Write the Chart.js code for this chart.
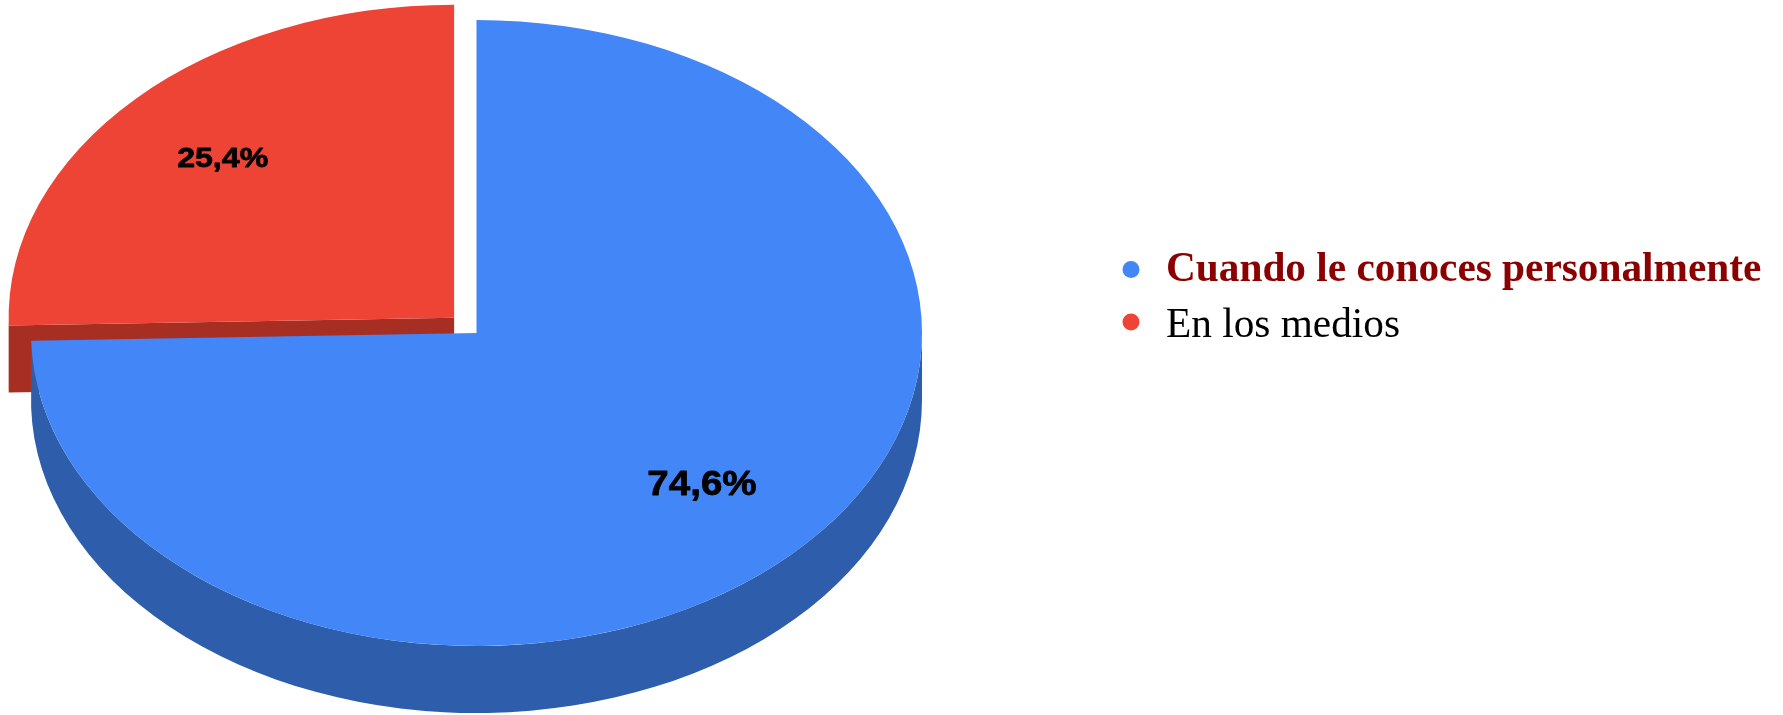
<!DOCTYPE html>
<html lang="es">
<head>
<meta charset="utf-8">
<title>Gráfico</title>
<style>html,body{margin:0;padding:0;background:#fff}canvas{display:block}</style>
<script src="https://cdn.jsdelivr.net/npm/chart.js@4"></script>
</head>
<body>
<canvas id="c" width="1783" height="715"></canvas>
<script>
const categories = ['Cuando le conoces personalmente', 'En los medios'];
const values = [74.6, 25.4];
const topColors = ['rgb(67,134,247)', 'rgb(238,68,53)'];
const sideColors = ['rgb(46,94,171)', 'rgb(166,46,35)'];
const sliceOffsets = [0, 125];

const TILT = 0.7026, SCREEN_CY = 333, DEPTH = 67;
const LABEL_R = 0.71, LABEL_FONT = [36, 30], LABEL_SQUASH = 0.95, LABEL_UP = 3, LABEL_LEFT = [1, 5];
const LEGEND = {x: 1131, dotR: 8.5, textX: 1166, size: 41.3,
  dotY: [269.5, 322], baseY: [281, 336.5]};

function tilt(ctx, chart) {
  const a = chart.getDatasetMeta(0).data[0];
  ctx.translate(a.x, SCREEN_CY);
  ctx.scale(1, TILT);
  ctx.translate(-a.x, -a.y);
}
function shift(arc, off) {
  const mid = (arc.startAngle + arc.endAngle) / 2;
  return {mid, dx: Math.cos(mid) * off / 4, dy: Math.sin(mid) * off / 4};
}

const pie3d = {
  id: 'pie3d',
  beforeDatasetsDraw(chart) {
    const ctx = chart.ctx;
    const arcs = chart.getDatasetMeta(0).data;
    ctx.save();
    tilt(ctx, chart);
    const d = DEPTH / TILT;
    // extruded faces, back slice first so the front slice covers it
    [1, 0].forEach(i => {
      const arc = arcs[i];
      const s = shift(arc, sliceOffsets[i]);
      const x = arc.x + s.dx, y = arc.y + s.dy, R = arc.outerRadius;
      ctx.fillStyle = sideColors[i];
      // cut edge at the slice start
      const ex = x + Math.cos(arc.startAngle) * R, ey = y + Math.sin(arc.startAngle) * R;
      ctx.beginPath();
      ctx.moveTo(x, y);
      ctx.lineTo(ex, ey);
      ctx.lineTo(ex, ey + d);
      ctx.lineTo(x, y + d);
      ctx.closePath();
      ctx.fill();
      // rim wall on the front half
      const a0 = Math.max(arc.startAngle, 0);
      const a1 = Math.min(arc.endAngle, Math.PI);
      if (a1 > a0) {
        ctx.beginPath();
        ctx.arc(x, y, R, a0, a1);
        ctx.arc(x, y + d, R, a1, a0, true);
        ctx.closePath();
        ctx.fill();
      }
    });
    // slices themselves are drawn by Chart.js under the same tilt
  },
  afterDatasetsDraw(chart) {
    const ctx = chart.ctx;
    ctx.restore();
    const arcs = chart.getDatasetMeta(0).data;
    // value labels
    arcs.forEach((arc, i) => {
      const s = shift(arc, sliceOffsets[i]);
      const r = arc.outerRadius * LABEL_R;
      const sx = arc.x + s.dx + Math.cos(s.mid) * r - LABEL_LEFT[i];
      const sy = SCREEN_CY + (s.dy + Math.sin(s.mid) * r) * TILT - LABEL_UP;
      ctx.save();
      ctx.translate(sx, sy);
      ctx.scale(1.07, LABEL_SQUASH);
      ctx.font = 'bold ' + LABEL_FONT[i] + 'px "Liberation Sans", Arial, sans-serif';
      ctx.fillStyle = '#000';
      ctx.strokeStyle = '#000';
      ctx.lineWidth = 0.8;
      ctx.lineJoin = 'round';
      ctx.textAlign = 'center';
      ctx.textBaseline = 'middle';
      const t = String(values[i]).replace('.', ',') + '%';
      ctx.strokeText(t, 0, 0);
      ctx.fillText(t, 0, 0);
      ctx.restore();
    });
    // legend
    categories.forEach((name, i) => {
      ctx.save();
      ctx.fillStyle = topColors[i];
      ctx.beginPath();
      ctx.arc(LEGEND.x, LEGEND.dotY[i], LEGEND.dotR, 0, Math.PI * 2);
      ctx.fill();
      ctx.font = (i === 0 ? 'bold ' : '') + LEGEND.size + 'px "Liberation Serif", "Times New Roman", serif';
      ctx.fillStyle = i === 0 ? '#8b0000' : '#000';
      ctx.textAlign = 'left';
      ctx.textBaseline = 'alphabetic';
      ctx.fillText(name, LEGEND.textX, LEGEND.baseY[i]);
      ctx.restore();
    });
  }
};

new Chart(document.getElementById('c'), {
  type: 'pie',
  data: {
    labels: categories,
    datasets: [{
      data: values,
      backgroundColor: topColors,
      hoverBackgroundColor: topColors,
      borderWidth: 0,
      offset: sliceOffsets,
      radius: 445.5,
      clip: false
    }]
  },
  options: {
    responsive: false,
    animation: false,
    events: [],
    layout: {padding: {left: 0, top: 0, bottom: 0, right: 830}},
    plugins: {legend: {display: false}, tooltip: {enabled: false}, title: {display: false}}
  },
  plugins: [pie3d]
});
</script>
</body>
</html>
